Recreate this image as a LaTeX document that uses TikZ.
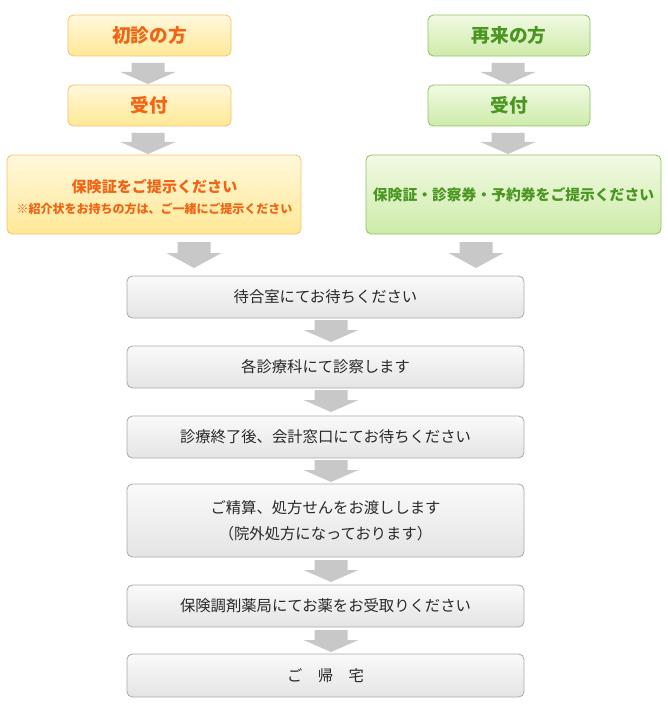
\documentclass[tikz,border=0pt]{standalone}
\usepackage{fontspec}
\newfontfamily\jp{Noto Sans CJK JP}
\definecolor{orTop}{RGB}{255,248,220}
\definecolor{orBot}{RGB}{255,232,150}
\definecolor{orLine}{RGB}{245,195,110}
\definecolor{orText}{RGB}{240,100,20}
\definecolor{grTop}{RGB}{242,250,228}
\definecolor{grBot}{RGB}{205,235,168}
\definecolor{grLine}{RGB}{140,195,105}
\definecolor{grText}{RGB}{75,150,35}
\definecolor{gyTop}{RGB}{250,250,250}
\definecolor{gyBot}{RGB}{228,228,228}
\definecolor{gyLine}{RGB}{170,170,170}
\definecolor{gyText}{RGB}{40,40,40}
\definecolor{arrowgray}{RGB}{200,200,200}
\def\u{0.75pt}
\newcommand\blockarrow[4]{% cx, ytop, ybot, halfwidth-scale
  \fill[arrowgray] (#1-16.5,#2) -- (#1+16.5,#2) -- (#1+16.5,#2+#4) -- (#1+27.5,#2+#4)
    -- (#1,#3) -- (#1-27.5,#2+#4) -- (#1-16.5,#2+#4) -- cycle;}
\tikzset{
  base/.style={rounded corners=4pt, line width=0.6pt, align=center, inner sep=0pt, font=\jp},
  orbox/.style={base, draw=orLine, top color=orTop, bottom color=orBot, text=orText},
  grbox/.style={base, draw=grLine, top color=grTop, bottom color=grBot, text=grText},
  gybox/.style={base, draw=gyLine, top color=gyTop, bottom color=gyBot, text=gyText, font=\jp\fontsize{11.5pt}{19.5pt}\selectfont},
}
\begin{document}
\begin{tikzpicture}[x=0.75pt,y=-0.75pt]
\useasboundingbox (0,0) rectangle (667,709);
\fill[white] (0,0) rectangle (667,709);
% left column
\node[orbox, minimum width=163*\u, minimum height=41*\u, font=\jp\fontsize{14pt}{16pt}\selectfont\bfseries] (a1) at (149.5,35.5) {初診の方};
\node[orbox, minimum width=163*\u, minimum height=41*\u, font=\jp\fontsize{14pt}{16pt}\selectfont\bfseries] (a2) at (149.5,105.5) {受付};
\node[orbox, minimum width=294*\u, minimum height=79*\u] (a3) at (154,194.5) {};
\node[text=orText, font=\jp\fontsize{11.3pt}{13pt}\selectfont\bfseries] (a3t1) at (154.5,187) {保険証をご提示ください};
\node[text=orText, font=\jp\fontsize{9pt}{11pt}\selectfont\bfseries] (a3t2) at (154.5,209) {※紹介状をお持ちの方は、ご一緒にご提示ください};
% right column
\node[grbox, minimum width=162*\u, minimum height=41*\u, font=\jp\fontsize{14pt}{16pt}\selectfont\bfseries] (b1) at (509,35.5) {再来の方};
\node[grbox, minimum width=162*\u, minimum height=41*\u, font=\jp\fontsize{14pt}{16pt}\selectfont\bfseries] (b2) at (509,105.5) {受付};
\node[grbox, minimum width=295*\u, minimum height=79*\u, font=\jp\fontsize{11.1pt}{13pt}\selectfont\bfseries] (b3) at (513.5,194.5) {保険証・診察券・予約券をご提示ください};
% common
\node[gybox, minimum width=397*\u, minimum height=42*\u] (c1) at (325.5,297) {待合室にてお待ちください};
\node[gybox, minimum width=397*\u, minimum height=42*\u] (c2) at (325.5,367) {各診療科にて診察します};
\node[gybox, minimum width=397*\u, minimum height=42*\u] (c3) at (325.5,437) {診療終了後、会計窓口にてお待ちください};
\node[gybox, minimum width=397*\u, minimum height=73*\u] (c4) at (325.5,520.5) {ご精算、処方せんをお渡しします\\（院外処方になっております）};
\node[gybox, minimum width=397*\u, minimum height=42*\u] (c5) at (325.5,606) {保険調剤薬局にてお薬をお受取りください};
\node[gybox, minimum width=397*\u, minimum height=43*\u] (c6) at (325.5,675.5) {ご　帰　宅};
% arrows
\blockarrow{148}{63}{84}{9}
\blockarrow{148}{133}{154}{9}
\blockarrow{508}{63}{84}{9}
\blockarrow{508}{133}{154}{9}
\blockarrow{194}{242}{268}{11}
\blockarrow{476}{242}{268}{11}
\blockarrow{331}{320}{342}{10}
\blockarrow{331}{390}{412}{10}
\blockarrow{331}{460}{482}{10}
\blockarrow{331}{560}{582}{10}
\blockarrow{331}{630}{652}{10}
\end{tikzpicture}
\end{document}
